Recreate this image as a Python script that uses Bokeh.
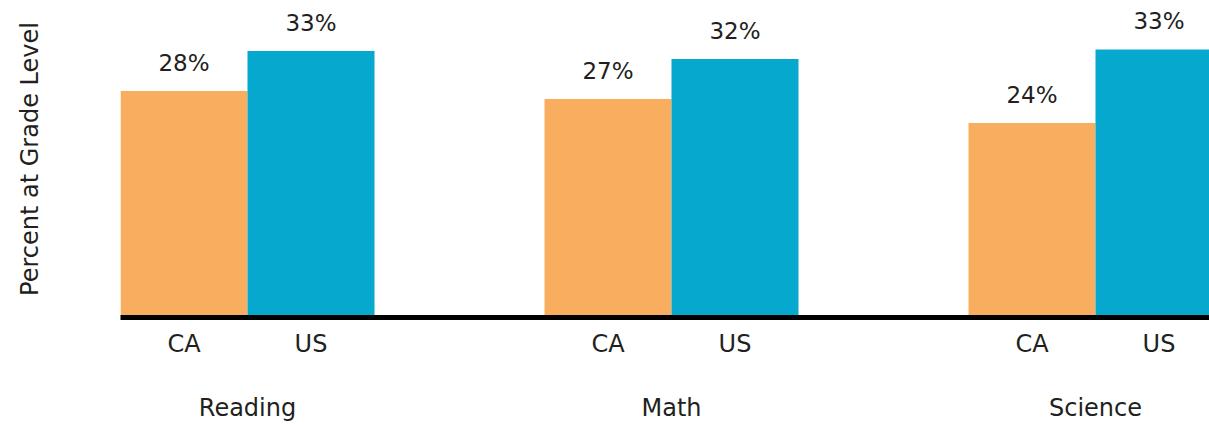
from bokeh.plotting import figure
from bokeh.models import ColumnDataSource, Range1d, FixedTicker, LinearAxis
from bokeh.core.properties import value
from bokeh.embed import file_html
from bokeh.resources import INLINE

# ---- data ----
subjects = ["Reading", "Math", "Science"]
regions = ["CA", "US"]
ca_values = [28, 27, 24]
us_values = [33, 32, 33.2]
ca_labels = ["28%", "27%", "24%"]
us_labels = ["33%", "32%", "33%"]

# ---- styling / layout constants ----
FONT = "DejaVu Sans"
TXT = "#231F20"
ORANGE = "#F9AD5E"
BLUE = "#07A8CD"
G = 424 / 127.0          # group spacing in bar-width units
BAR_W = 1.0

idx = list(range(len(subjects)))
ca_x = [i * G - 0.5 for i in idx]
us_x = [i * G + 0.5 for i in idx]
group_x = [i * G for i in idx]

src_ca = ColumnDataSource(dict(x=ca_x, top=ca_values, label=ca_labels))
src_us = ColumnDataSource(dict(x=us_x, top=us_values, label=us_labels))

p = figure(width=1209, height=424, output_backend="svg", toolbar_location=None,
           x_range=Range1d(-1, -1 + 1089 / 127.0),
           y_range=Range1d(-0.3125, 39.3125),
           min_border_left=120, min_border_right=0, min_border_top=0,
           min_border_bottom=0, x_axis_location=None, y_axis_location=None)
p.outline_line_color = None
p.xgrid.visible = False
p.ygrid.visible = False
p.background_fill_color = "white"
p.border_fill_color = "white"

p.vbar(x="x", top="top", bottom=0, width=BAR_W, source=src_ca,
       fill_color=ORANGE, line_color=None)
p.vbar(x="x", top="top", bottom=0, width=BAR_W, source=src_us,
       fill_color=BLUE, line_color=None)

for src in (src_ca, src_us):
    p.text(x="x", y="top", text="label", source=src, y_offset=-28,
           text_font=value(FONT), text_font_size="23px", text_color=TXT,
           text_align="center", text_baseline="middle")

# x axis with CA / US tick labels and thick black baseline
xaxis = LinearAxis(ticker=FixedTicker(ticks=ca_x + us_x))
overrides = {x: regions[0] for x in ca_x}
overrides.update({x: regions[1] for x in us_x})
xaxis.major_label_overrides = overrides
xaxis.axis_line_color = "black"
xaxis.axis_line_width = 5
xaxis.major_tick_line_color = None
xaxis.minor_tick_line_color = None
xaxis.major_tick_out = 0
xaxis.major_tick_in = 0
xaxis.major_label_standoff = 12
xaxis.major_label_text_font = FONT
xaxis.major_label_text_font_size = "24px"
xaxis.major_label_text_color = TXT
p.add_layout(xaxis, "below")

# second axis below: subject names
gaxis = LinearAxis(ticker=FixedTicker(ticks=group_x))
gaxis.major_label_overrides = {x: s for x, s in zip(group_x, subjects)}
gaxis.axis_line_color = None
gaxis.major_tick_line_color = None
gaxis.minor_tick_line_color = None
gaxis.major_tick_out = 0
gaxis.major_tick_in = 0
gaxis.major_label_standoff = 33
gaxis.major_label_text_font = FONT
gaxis.major_label_text_font_size = "24px"
gaxis.major_label_text_color = TXT
p.add_layout(gaxis, "below")

# y axis only for its title
yaxis = LinearAxis(ticker=FixedTicker(ticks=[]))
yaxis.axis_line_color = None
yaxis.major_tick_line_color = None
yaxis.minor_tick_line_color = None
yaxis.axis_label = "Percent at Grade Level"
yaxis.axis_label_text_font = FONT
yaxis.axis_label_text_font_size = "24px"
yaxis.axis_label_text_font_style = "normal"
yaxis.axis_label_text_color = TXT
yaxis.axis_label_standoff = 77
p.add_layout(yaxis, "left")

open("out.html", "w").write(file_html(p, INLINE))
